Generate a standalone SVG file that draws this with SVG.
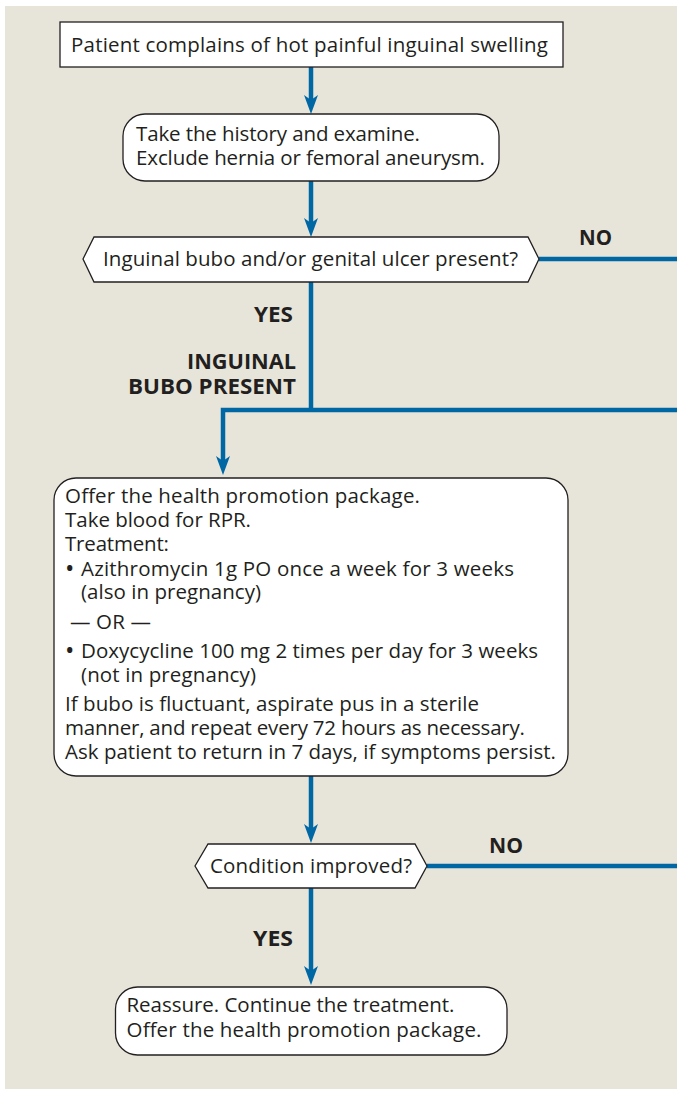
<svg xmlns="http://www.w3.org/2000/svg" width="677" height="1094" viewBox="0 0 677 1094">
  <style>
    .bg { fill: #E7E5D9; }
    .box { fill: #FFFFFF; stroke: #231F20; stroke-width: 1.3; }
    .t { font-family: "Open Sans", "Liberation Sans", sans-serif; font-size: 20.5px; fill: #231F20; }
    .bul { font-family: "Open Sans", "Liberation Sans", sans-serif; font-size: 25px; fill: #231F20; }
    .b { font-family: "Open Sans", "Liberation Sans", sans-serif; font-size: 21px; font-weight: 700; fill: #231F20; }
    .r { text-anchor: end; }
    .c { fill: none; stroke: #0067A5; stroke-width: 4.5; stroke-linejoin: miter; }
  </style>
  <defs>
    <marker id="ah" viewBox="-6 -8 21 16" refX="0" refY="0" markerWidth="21" markerHeight="16" markerUnits="userSpaceOnUse" orient="auto" overflow="visible">
      <path d="M14,0 L-5,-7 L0,0 L-5,7 Z" fill="#0067A5"/>
    </marker>
  </defs>
  <rect class="bg" x="5" y="6" width="672" height="1083"/>

  <g id="connectors">
    <path class="c" d="M311,67 V100" marker-end="url(#ah)"/>
    <path class="c" d="M311,181 V223" marker-end="url(#ah)"/>
    <path class="c" d="M311,282 V410"/>
    <path class="c" d="M677,410 H223 V461" marker-end="url(#ah)"/>
    <path class="c" d="M539,259 H677"/>
    <path class="c" d="M311,776 V829" marker-end="url(#ah)"/>
    <path class="c" d="M427,866 H677"/>
    <path class="c" d="M311,888 V971" marker-end="url(#ah)"/>
    <text class="b" x="579" y="245" textLength="33" lengthAdjust="spacingAndGlyphs">NO</text>
    <text class="b r" x="293" y="322" textLength="39" lengthAdjust="spacingAndGlyphs">YES</text>
    <text class="b r" x="296" y="369" textLength="109" lengthAdjust="spacingAndGlyphs">INGUINAL</text>
    <text class="b r" x="296" y="394" textLength="168" lengthAdjust="spacingAndGlyphs">BUBO PRESENT</text>
    <text class="b" x="489" y="853" textLength="34" lengthAdjust="spacingAndGlyphs">NO</text>
    <text class="b r" x="293" y="946" textLength="40" lengthAdjust="spacingAndGlyphs">YES</text>
  </g>

  <g id="start">
    <rect class="box" x="60" y="22" width="503" height="45"/>
    <text class="t" x="71" y="52" textLength="477">Patient complains of hot painful inguinal swelling</text>
  </g>

  <g id="history">
    <rect class="box" x="123" y="114" width="376" height="67" rx="22" ry="22"/>
    <text class="t" x="136" y="141" textLength="284">Take the history and examine.</text>
    <text class="t" x="136" y="165" textLength="349">Exclude hernia or femoral aneurysm.</text>
  </g>

  <g id="decision1">
    <polygon class="box" points="83,259 94,237 528,237 539,259 528,282 94,282"/>
    <text class="t" x="103" y="266" textLength="415">Inguinal bubo and/or genital ulcer present?</text>
  </g>

  <g id="treatment">
    <rect class="box" x="54" y="478" width="514" height="298" rx="22" ry="22"/>
    <text class="t" x="65" y="503" textLength="355">Offer the health promotion package.</text>
    <text class="t" x="65" y="527" textLength="186">Take blood for RPR.</text>
    <text class="t" x="65" y="551" textLength="104">Treatment:</text>
    <text class="bul" x="65" y="577">•</text>
    <text class="t" x="81" y="576" textLength="433">Azithromycin 1g PO once a week for 3 weeks</text>
    <text class="t" x="81" y="599" textLength="180">(also in pregnancy)</text>
    <text class="t" x="70" y="629" textLength="81">— OR —</text>
    <text class="bul" x="65" y="659">•</text>
    <text class="t" x="81" y="658" textLength="457">Doxycycline 100 mg 2 times per day for 3 weeks</text>
    <text class="t" x="81" y="682" textLength="175">(not in pregnancy)</text>
    <text class="t" x="65" y="711" textLength="414">If bubo is fluctuant, aspirate pus in a sterile</text>
    <text class="t" x="65" y="735" textLength="460">manner, and repeat every 72 hours as necessary.</text>
    <text class="t" x="65" y="759" textLength="491">Ask patient to return in 7 days, if symptoms persist.</text>
  </g>

  <g id="decision2">
    <polygon class="box" points="195,866 208,844 415,844 427,866 415,888 208,888"/>
    <text class="t" x="210" y="873" textLength="202">Condition improved?</text>
  </g>

  <g id="reassure">
    <rect class="box" x="115.5" y="987" width="391.5" height="68" rx="22" ry="22"/>
    <text class="t" x="126.5" y="1012" textLength="328">Reassure. Continue the treatment.</text>
    <text class="t" x="126.5" y="1037" textLength="355">Offer the health promotion package.</text>
  </g>
</svg>
